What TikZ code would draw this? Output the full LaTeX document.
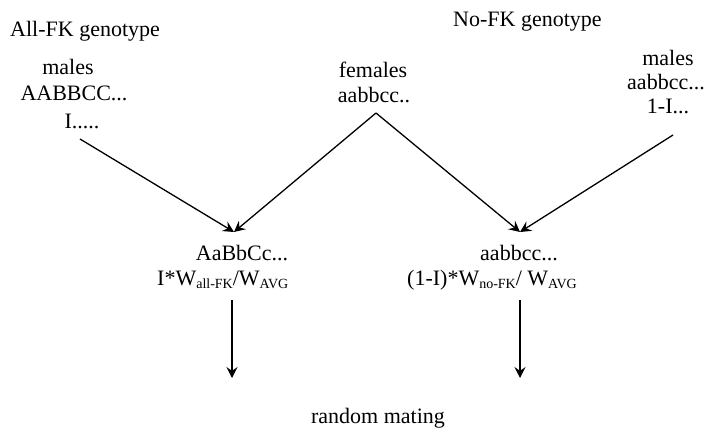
\documentclass[tikz,border=0pt]{standalone}
\usepackage{fontspec}
\setmainfont{Liberation Serif}
\usetikzlibrary{arrows.meta}
\newcommand{\sbs}[1]{\raisebox{-0.35ex}{\fontsize{14}{14}\selectfont #1}}
\begin{document}
\begin{tikzpicture}[x=1pt,y=-1pt,
  txt/.style={inner sep=0pt,anchor=base,font=\fontsize{22}{26}\selectfont},
  conn/.style={line width=1.3pt},
  arr/.style={conn,-{Stealth[length=11pt,width=11pt,inset=4pt]}}]
\useasboundingbox (0,0) rectangle (706,431);
% titles
\node[txt,anchor=base west] (allfk) at (10,36) {All-FK genotype};
\node[txt,anchor=base west] (nofk) at (453,26) {No-FK genotype};
% left males
\node[txt] (lm1) at (68,74) {males};
\node[txt] (lm2) at (74,100) {AABBCC...};
\node[txt] (lm3) at (82,128) {I.....};
% females
\node[txt] (f1) at (373,77) {females};
\node[txt] (f2) at (374,102) {aabbcc..};
% right males
\node[txt] (rm1) at (668,65) {males};
\node[txt] (rm2) at (666,89) {aabbcc...};
\node[txt] (rm3) at (668,113) {1-I...};
% offspring
\node[txt] (o1) at (242,260) {AaBbCc...};
\node[txt,anchor=base west] (o2) at (157,285) {I*W\sbs{all-FK}/W\sbs{AVG}};
\node[txt] (p1) at (519,260) {aabbcc...};
\node[txt,anchor=base west] (p2) at (407,285) {(1-I)*W\sbs{no-FK}/ W\sbs{AVG}};
\node[txt] (rnd) at (378,423) {random mating};
% connector points
\coordinate (lmS) at (80,139);
\coordinate (apex) at (376,113);
\coordinate (rmS) at (673,135);
\coordinate (lT) at (234,232);
\coordinate (rT) at (520,232);
\coordinate (lA) at (232,300);
\coordinate (lB) at (232,378);
\coordinate (rA) at (520,300);
\coordinate (rB) at (520,378);
\draw[arr] (lmS) -- (lT);
\draw[arr] (apex) -- (lT);
\draw[arr] (apex) -- (rT);
\draw[arr] (rmS) -- (rT);
\draw[arr] (lA) -- (lB);
\draw[arr] (rA) -- (rB);
\end{tikzpicture}
\end{document}
